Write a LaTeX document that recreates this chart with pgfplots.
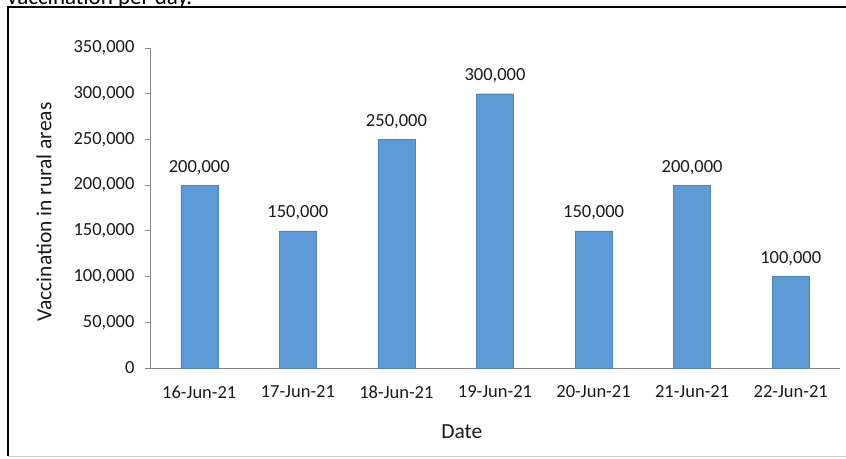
\documentclass[border=0pt]{standalone}
\usepackage{pgfplots}
\usepackage{pgfplotstable}
\pgfplotsset{compat=1.18}
\usepackage{fontspec}
\setmainfont{Carlito}
\definecolor{barblue}{RGB}{94,155,214}
\definecolor{axgray}{RGB}{134,134,134}
\pgfplotstableread{
x y lab
0 200000 200,000
1 150000 150,000
2 250000 250,000
3 300000 300,000
4 150000 150,000
5 200000 200,000
6 100000 100,000
}\vacc
\begin{document}
\begin{tikzpicture}[x=1pt,y=1pt]
\path[use as bounding box] (0,0) rectangle (846,458);
\node[anchor=base west, inner sep=0pt, font=\fontsize{23}{23}\selectfont] at (7,453) {vaccination per day.};
\draw[black, line width=1.6pt] (8,2) -- (8,451) -- (860,451);
\draw[gray!40, line width=1pt] (8,2) -- (860,2);
\begin{axis}[
  at={(150pt,90pt)}, anchor=south west,
  scale only axis, width=690pt, height=320pt,
  xmin=-0.5, xmax=6.5, ymin=0, ymax=350000,
  axis lines*=left,
  axis line style={axgray, line width=0.8pt},
  xtick={0,...,6},
  xticklabels={16-Jun-21,17-Jun-21,18-Jun-21,19-Jun-21,20-Jun-21,21-Jun-21,22-Jun-21},
  x tick style={draw=none},
  ytick={0,50000,100000,150000,200000,250000,300000,350000},
  yticklabels={0,{50,000},{100,000},{150,000},{200,000},{250,000},{300,000},{350,000}},
  y tick style={axgray, line width=0.8pt},
  tick align=outside, major tick length=5pt,
  scaled y ticks=false,
  yticklabel style={font=\fontsize{18.5}{18.5}\selectfont, text=black!90, xshift=-7pt},
  xticklabel style={font=\fontsize{18.5}{18.5}\selectfont, text=black!90, yshift=-9pt},
  xlabel={Date}, ylabel={Vaccination in rural areas},
  label style={font=\fontsize{21.5}{21.5}\selectfont, text=black!90},
  xlabel style={at={(axis description cs:0.452,0)}, anchor=center, yshift=-64pt},
  ylabel style={at={(axis description cs:-0.1536,0.4875)}, anchor=center},
  ybar, bar width=37pt,
  point meta=explicit symbolic,
  nodes near coords,
  nodes near coords style={font=\fontsize{18.5}{18.5}\selectfont, text=black!90, yshift=7pt},
  clip=false,
]
\addplot[fill=barblue, draw=barblue!85!black, line width=0.4pt] table[x=x, y=y, meta=lab] {\vacc};
\end{axis}
\end{tikzpicture}
\end{document}
